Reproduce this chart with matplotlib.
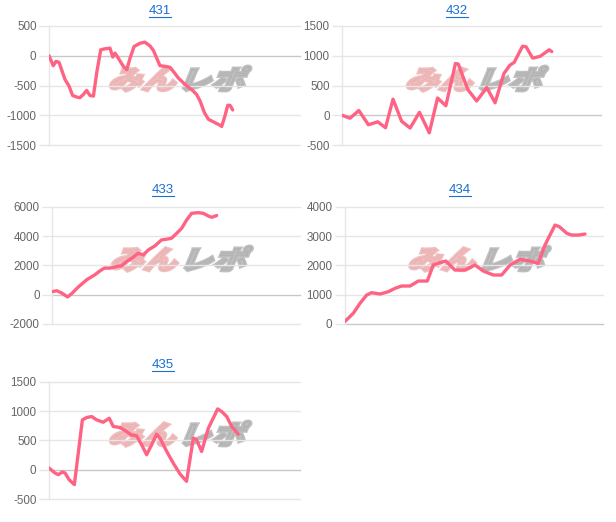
import matplotlib
matplotlib.use("Agg")
import matplotlib.pyplot as plt
from matplotlib.lines import Line2D
from matplotlib.textpath import TextPath
from matplotlib.patches import PathPatch
from matplotlib.font_manager import FontProperties
import matplotlib.transforms as mtransforms

plt.rcParams['font.family'] = ['Liberation Sans', 'DejaVu Sans']

# ---- data ----
titles = ["431", "432", "433", "434", "435"]

x431 = [0, 1.7, 2.8, 4.0, 5.0, 6.4, 8.0, 9.4, 11.0, 12.3, 13.7, 15.0, 16.3, 17.7, 19.0, 20.6, 22.3,
        24.3, 25.4, 26.3, 27.6, 29.6, 31.0, 32.3, 33.9, 36.3, 38.2, 40.2, 41.6, 42.9, 44.2, 46.2,
        48.2, 49.5, 51.5, 54.2, 56.8, 58.8, 60.2, 61.9, 63.5, 65.5, 68.1, 68.8, 70.1, 71.2, 72.1, 73.2]
y431 = [0, -167, -94, -111, -233, -400, -511, -667, -694, -705, -650, -583, -667, -678, -289, 100, 117,
        128, -22, 44, -39, -178, -233, -39, 156, 211, 228, 167, 89, -39, -167, -178,
        -194, -261, -372, -483, -567, -650, -761, -955, -1067, -1111, -1167, -1189, -1011, -833, -833, -911]

x432 = [0, 3.1, 6.5, 10.2, 13.8, 16.8, 19.7, 23.0, 26.3, 29.9, 33.7, 36.9, 40.1, 43.8, 44.9, 48.6,
        52.0, 55.9, 59.1, 62.5, 64.8, 66.5, 69.7, 71.1, 73.6, 76.5, 80.0, 81.0]
y432 = [0, -50, 80, -160, -110, -210, 270, -100, -215, 50, -295, 290, 160, 870, 860, 430,
        240, 465, 210, 700, 840, 890, 1160, 1150, 960, 990, 1100, 1070]

x433 = [0, 1.9, 3.9, 6.3, 7.9, 10.6, 14.0, 17.3, 19.4, 21.1, 23.4, 26.1, 28.1, 30.1, 32.8, 34.8,
        36.8, 38.9, 41.5, 44.2, 46.2, 48.2, 50.3, 52.3, 54.3, 56.3, 59.0, 61.0, 63.0, 64.4, 66.4]
y433 = [200, 270, 113, -158, 68, 521, 1019, 1359, 1631, 1812, 1812, 1925, 1970, 2265, 2560, 2831,
        2718, 3058, 3330, 3737, 3783, 3850, 4190, 4530, 5096, 5549, 5595, 5549, 5368, 5277, 5400]

x434 = [0, 3.2, 5.8, 8.4, 10.3, 13.6, 16.8, 19.4, 21.9, 25.2, 28.4, 31.9, 34.2, 36.8, 39.1, 42.6,
        46.5, 50.4, 53.6, 57.5, 60.7, 64.0, 67.8, 71.7, 74.9, 77.5, 81.4, 83.1, 86.0, 87.9, 90.5, 93.0]
y434 = [90, 364, 704, 988, 1068, 1022, 1102, 1216, 1295, 1295, 1465, 1465, 2011, 2090, 2147, 1840,
        1840, 2011, 1806, 1670, 1670, 2011, 2204, 2147, 2067, 2692, 3374, 3317, 3090, 3033, 3033, 3067]

x435 = [0, 2.4, 3.7, 5.3, 6.4, 8.0, 10.1, 13.3, 15.0, 17.0, 19.0, 21.6, 24.0, 25.6, 28.3, 30.9,
        32.7, 34.9, 36.9, 38.9, 40.9, 42.9, 44.2, 46.9, 49.5, 52.2, 54.8, 57.5, 58.8, 60.8, 63.5,
        67.2, 68.8, 70.8, 72.8, 75.4]
y435 = [28, -57, -85, -40, -57, -170, -255, 849, 889, 906, 849, 809, 877, 736, 719, 651,
        594, 577, 425, 255, 425, 606, 538, 311, 113, -74, -198, 538, 509, 311, 708,
        1036, 991, 906, 736, 606]

yticks = [
    [-1500, -1000, -500, 0, 500],
    [-500, 0, 500, 1000, 1500],
    [-2000, 0, 2000, 4000, 6000],
    [0, 1000, 2000, 3000, 4000],
    [-500, 0, 500, 1000, 1500],
]
xs = [x431, x432, x433, x434, x435]
ys = [y431, y432, y433, y434, y435]

# ---- layout (pixel geometry) ----
W, H = 616, 522
fig = plt.figure(figsize=(W / 100, H / 100), dpi=100)

# (left, right, top, bottom) in pixels from top-left
boxes = [
    (49, 300, 26, 145),
    (342, 601, 26, 145),
    (52, 300, 206.7, 324),
    (345, 603, 206.7, 324),
    (49, 300, 381.7, 499),
]
title_pos = [(160, 11), (457, 11), (163, 190), (460, 190), (163, 365)]

line_color = '#ff6384'
grid_color = '#e6e6e6'
zero_color = '#c8c8c8'

wm_font = FontProperties(family='Noto Sans CJK JP', weight='black')

for i in range(5):
    l, r, t, b = boxes[i]
    ax = fig.add_axes([l / W, 1 - b / H, (r - l) / W, (b - t) / H])
    ax.set_xlim(0, 100)
    ax.set_ylim(yticks[i][0], yticks[i][-1])
    ax.set_yticks(yticks[i])
    ax.set_yticklabels([str(v) for v in yticks[i]])
    ax.set_xticks([])
    for s in ['top', 'right', 'bottom']:
        ax.spines[s].set_visible(False)
    ax.spines['left'].set_color(grid_color)
    ax.spines['left'].set_linewidth(1)
    ax.tick_params(axis='y', length=7, width=1, color=grid_color,
                   labelsize=8.4, labelcolor='#666666', pad=2)
    for v in yticks[i]:
        c = zero_color if v == 0 else grid_color
        ax.axhline(v, color=c, lw=1, zorder=1, clip_on=False)

    # watermark
    cx, cy = ax.transAxes.transform((0.49, 0.57))
    p1 = TextPath((0, 0), "みん", size=30, prop=wm_font)
    p2 = TextPath((0, 0), "レポ", size=30, prop=wm_font)
    w1 = p1.get_extents().width
    w2 = p2.get_extents().width
    total = w1 + w2 + 4
    base = mtransforms.Affine2D().skew_deg(18, 0).scale(1.12, 0.88)
    tr1 = base + mtransforms.Affine2D().translate(cx - total * 1.12 / 2, cy - 12)
    tr2 = base + mtransforms.Affine2D().translate(cx - total * 1.12 / 2 + (w1 + 4) * 1.12, cy - 12)
    fig.patches.append(PathPatch(p1, transform=tr1, facecolor='#ebb0b0', edgecolor='#ebb0b0',
                                 lw=2.2, alpha=0.8, zorder=2, figure=fig))
    fig.patches.append(PathPatch(p2, transform=tr2, facecolor='#b0b0b0', edgecolor='#b0b0b0',
                                 lw=2.2, alpha=0.8, zorder=2, figure=fig))

    ax.patch.set_alpha(0)
    ax.set_zorder(3)
    ax.plot(xs[i], ys[i], color=line_color, lw=2.4, zorder=4, solid_joinstyle='round',
            solid_capstyle='round')

    tx, ty = title_pos[i]
    txt = fig.text(tx / W, 1 - ty / H, titles[i], ha='center', va='center',
                   fontsize=9.5, color='#1a6fd1')

fig.canvas.draw()
renderer = fig.canvas.get_renderer()
for txt in list(fig.texts):
    bb = txt.get_window_extent(renderer)
    yline = bb.y0 + 0.5
    fig.add_artist(Line2D([bb.x0 / W, bb.x1 / W], [yline / H, yline / H],
                          color='#1a6fd1', lw=0.8, transform=fig.transFigure))

fig.savefig("out.png", dpi=100, facecolor='white')
